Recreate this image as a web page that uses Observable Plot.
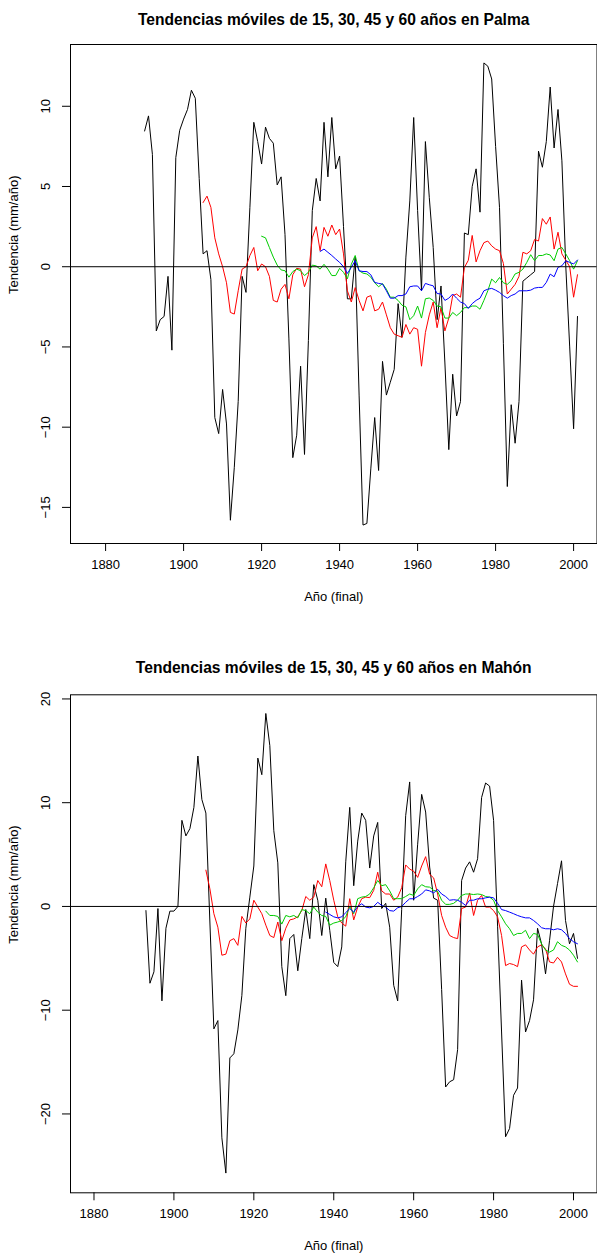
<!DOCTYPE html>
<html><head><meta charset="utf-8">
<script src="https://cdn.jsdelivr.net/npm/d3@7"></script>
<script src="https://cdn.jsdelivr.net/npm/@observablehq/plot@0.6"></script>
<style>
body{margin:0;background:#fff;}
#chart svg{display:block;}
</style></head><body><div id="chart"></div>
<script>
const FONT = '"Liberation Sans", Arial, Helvetica, sans-serif';

// ---------- shared tick labels ----------
const xTicks = [1880, 1900, 1920, 1940, 1960, 1980, 2000];
const palmaYTicks = [-15, -10, -5, 0, 5, 10];
const mahonYTicks = [-20, -10, 0, 10, 20];

// ---------- Palma (first year of each series, then yearly values) ----------
const palmaStart15 = 1890;
const palma15 = [8.46,9.4,7.0,-4.0,-3.3,-3.1,-0.6,-5.2,6.8,8.5,9.2,9.8,11.0,10.5,5.5,0.8,1.0,-0.8,-9.4,-10.4,
  -7.65,-9.8,-15.8,-12.5,-8.4,-0.6,-1.6,3.7,9.0,7.8,6.4,8.7,8.0,7.7,5.1,5.6,2.0,-4.5,-11.9,-10.5,
  -6.2,-11.7,-4.6,3.5,5.5,4.1,9.0,5.6,9.3,6.1,6.9,2.5,-2.0,-2.0,0.6,-8.0,-16.1,-16.0,-12.6,-9.4,
  -12.7,-5.9,-8.0,-7.2,-6.4,-2.3,-4.4,0.6,4.1,9.3,3.5,-1.5,7.8,4.3,1.2,-3.3,-1.2,-6.0,-11.4,-6.7,
  -9.3,-8.4,2.1,2.0,5.0,6.1,3.4,12.7,12.5,11.7,7.5,3.7,-4.8,-13.7,-8.6,-11.0,-8.4,-0.9,-0.7,-0.5,
  -0.3,7.2,6.2,7.8,11.2,7.4,9.8,6.6,0.0,-5.0,-10.1,-3.1];
const palmaStart30 = 1905;
const palma30 = [4.0,4.4,3.7,1.8,0.8,0.0,-1.0,-2.85,-2.95,-1.5,-0.15,0.0,0.7,1.2,-0.25,0.17,0.0,-0.6,-2.1,-2.2,
  -1.4,-1.1,-2.0,-0.5,-0.1,-0.15,-1.25,-0.5,1.8,2.5,1.0,2.45,1.9,2.6,2.0,2.35,0.8,-1.5,-2.2,-1.3,
  -2.1,-2.75,-1.9,-1.8,-2.75,-2.65,-2.2,-3.0,-3.8,-4.2,-4.3,-4.4,-3.6,-4.2,-3.8,-3.9,-6.2,-4.1,-3.0,-2.2,
  -3.8,-2.55,-4.0,-3.2,-1.8,-1.7,-1.9,-0.05,0.4,1.95,0.3,1.0,1.5,1.6,1.3,1.1,1.0,0.2,-1.7,-1.4,
  -1.1,-0.6,0.9,0.8,1.0,1.7,1.6,3.0,2.65,3.1,1.1,2.15,0.8,0.4,0.0,-1.9,-0.5];
const palmaStart45 = 1920;
const palma45 = [1.9,1.8,1.2,0.6,0.1,-0.2,-0.25,-0.65,-0.3,-0.15,-0.25,-0.55,-0.35,0.1,0.05,-0.15,0.15,-0.15,-0.55,-0.55,
  -0.1,-0.35,-0.75,0.15,0.7,-0.25,-0.4,-0.45,-0.65,-1.0,-1.25,-1.05,-1.4,-1.9,-1.9,-2.1,-2.4,-2.5,-3.3,-3.05,
  -2.45,-3.2,-2.0,-1.95,-2.1,-2.45,-2.5,-3.2,-3.2,-2.85,-3.05,-2.85,-2.55,-2.55,-2.45,-2.45,-2.65,-2.1,-1.5,-0.77,
  -1.0,-0.67,-1.0,-1.1,-0.875,-0.45,-0.35,-0.15,0.27,0.75,0.375,0.7,0.7,0.8,0.73,0.375,1.1,1.2,0.8,0.375,
  -0.15,0.375];
const palmaStart60 = 1935;
const palma60 = [0.95,1.1,0.9,0.7,0.48,0.27,0.0,-0.42,-0.04,0.375,-0.25,-0.3,-0.3,-0.5,-0.98,-1.04,-1.08,-1.5,-1.96,-1.96,
  -1.8,-1.8,-1.7,-1.25,-1.2,-1.2,-1.5,-1.04,-1.125,-1.19,-1.67,-1.7,-2.1,-1.96,-1.7,-1.96,-2.2,-2.3,-2.6,-2.3,
  -2.1,-1.96,-1.5,-1.4,-1.35,-1.46,-1.6,-1.8,-1.96,-1.8,-1.7,-1.5,-1.5,-1.5,-1.46,-1.33,-1.29,-1.29,-0.98,-0.46,
  -0.625,-0.04,0.06,0.375,0.27,0.17,0.42];

// ---------- Mahón ----------
const mahonStart15 = 1893;
const mahon15 = [-0.4,-7.4,-6.3,-0.2,-9.1,-2.1,-0.45,-0.45,0.0,8.3,6.8,7.5,9.55,14.5,10.3,9.0,-1.5,-11.8,-11.0,-22.3,
  -25.7,-14.6,-14.2,-11.9,-8.6,-2.1,0.9,3.9,14.3,12.7,18.6,15.5,7.3,4.2,-5.8,-8.6,-3.1,-2.7,-6.2,-3.1,
  -0.3,-3.1,2.1,0.6,-2.8,0.8,-2.3,-5.4,-5.8,-3.9,4.3,9.55,2.0,6.3,9.0,8.3,3.7,6.8,8.1,-0.2,
  0.3,-2.0,-7.6,-9.1,-0.3,8.75,12.0,0.6,6.0,10.8,9.1,3.8,0.8,0.6,-8.0,-17.4,-16.9,-16.7,-13.8,2.5,
  3.7,4.3,3.3,4.6,10.5,11.9,11.6,8.3,-1.9,-12.1,-22.2,-21.4,-18.2,-17.5,-7.1,-12.1,-11.0,-9.0,-2.1,-3.6,
  -6.5,-3.3,0.0,2.2,4.4,-1.35,-3.6,-2.6,-5.0];
const mahonStart30 = 1908;
const mahon30 = [3.5,1.7,-0.7,-2.0,-4.7,-4.6,-3.3,-3.1,-3.75,-0.96,-1.6,-1.2,0.6,-0.06,-0.7,-1.8,-2.8,-3.0,-1.5,-3.3,
  -2.1,-1.3,-1.2,-1.0,-0.4,0.96,0.6,0.9,2.5,1.9,4.1,2.5,0.6,-1.0,-1.6,-1.9,0.75,-1.3,-0.06,0.75,
  0.9,0.85,1.55,3.3,1.5,1.2,1.2,0.6,0.9,1.8,4.0,3.6,3.4,2.8,3.9,4.8,3.1,2.75,1.2,-0.87,
  -2.0,-2.8,-3.0,-3.1,-0.2,-0.06,1.3,-0.87,0.6,1.06,-0.06,-0.06,-0.4,-1.0,-2.8,-5.7,-5.5,-5.6,-5.8,-3.9,
  -3.7,-4.2,-4.6,-3.9,-3.7,-4.1,-5.35,-5.45,-4.9,-5.35,-6.5,-7.5,-7.7,-7.7];
const mahonStart45 = 1923;
const mahon45 = [-0.45,-0.87,-0.87,-0.96,-1.7,-0.87,-1.0,-0.87,-1.1,-0.3,-0.4,-0.7,-0.06,-0.55,-0.87,-0.96,-1.8,-1.6,-1.5,-1.35,
  -1.0,0.0,-0.7,0.75,0.9,0.96,1.2,1.8,2.5,2.0,2.1,1.5,0.75,0.75,0.75,0.96,1.2,1.06,1.7,2.1,
  1.9,1.86,1.55,1.45,0.6,0.2,0.2,0.3,0.6,1.06,1.2,1.2,1.15,1.2,1.15,0.96,0.9,0.6,-0.4,-1.0,
  -1.67,-2.15,-2.8,-2.6,-2.6,-2.3,-3.1,-2.6,-2.7,-3.6,-4.2,-4.4,-4.2,-3.4,-3.75,-3.9,-4.2,-4.7,-5.35];
const mahonStart60 = 1938;
const mahon60 = [-0.55,-0.77,-1.0,-1.1,-1.0,-0.6,-0.2,-0.55,0.0,0.26,-0.06,-0.13,0.0,0.4,0.1,-0.06,-0.4,-0.45,-0.13,0.0,
  0.4,0.74,0.74,0.96,1.2,1.6,1.5,1.3,1.65,1.2,0.96,0.6,0.65,0.6,0.4,0.1,0.6,0.6,0.74,0.74,
  0.83,0.9,0.83,0.3,-0.3,-0.4,-0.55,-0.7,-0.87,-1.0,-1.1,-1.1,-1.35,-1.67,-2.05,-2.15,-2.15,-2.25,-2.15,-2.25,
  -2.6,-3.1,-3.4,-3.6];

const seriesColors = ["black", "#FF0000", "#00CD00", "#0000FF"];
const fmt = d => d < 0 ? "\u2212" + Math.abs(d) : String(d);

function rows(start, values) {
  return values.map((v, i) => ({year: start + i, value: v}));
}

function panel(cfg) {
  const series = cfg.series.map(([s, v]) => rows(s, v));
  return Plot.plot({
    width: 597,
    height: cfg.height,
    marginTop: cfg.mt,
    marginBottom: cfg.mb,
    marginLeft: 70,
    marginRight: 0.5,
    style: {fontFamily: FONT, background: "white", color: "black", overflow: "visible"},
    x: {domain: cfg.xDomain, axis: null},
    y: {domain: cfg.yDomain, axis: null},
    marks: [
      ...series.map((d, i) => Plot.line(d, {x: "year", y: "value", stroke: seriesColors[i], strokeWidth: 1})),
      Plot.ruleY([0], {stroke: "black", strokeWidth: 1}),
      Plot.frame({stroke: "black", strokeWidth: 1}),
      Plot.axisX({ticks: xTicks, tickSize: 8, tickFormat: () => "", label: null}),
      Plot.axisY({ticks: cfg.yTicks, tickSize: 8, tickFormat: () => "", label: null}),
      Plot.text(xTicks, {x: d => d, text: d => String(d), frameAnchor: "bottom", dy: 25, fontSize: 13}),
      Plot.text(cfg.yTicks, {y: d => d, text: fmt, frameAnchor: "left", dx: -24.3, rotate: -90,
        textAnchor: "middle", lineAnchor: "middle", fontSize: 13}),
      Plot.text([cfg.title], {frameAnchor: "top", dy: cfg.titleDy, fontSize: 15.6, fontWeight: "bold"}),
      Plot.text(["Año (final)"], {frameAnchor: "bottom", dy: 57, fontSize: 13}),
      Plot.text(["Tendencia (mm/año)"], {frameAnchor: "left", dx: -57, rotate: -90, fontSize: 13})
    ]
  });
}

const chart = document.getElementById("chart");
chart.append(panel({
  title: "Tendencias móviles de 15, 30, 45 y 60 años en Palma",
  height: 630, mt: 44, mb: 87, titleDy: -30.7,
  xDomain: [1871, 2006], yDomain: [-17.25, 13.85], yTicks: palmaYTicks,
  series: [[palmaStart15, palma15], [palmaStart30, palma30], [palmaStart45, palma45], [palmaStart60, palma60]]
}));
chart.append(panel({
  title: "Tendencias móviles de 15, 30, 45 y 60 años en Mahón",
  height: 629, mt: 64.3, mb: 66.7, titleDy: -32.6,
  xDomain: [1874.12, 2005.88], yDomain: [-27.6, 20.4], yTicks: mahonYTicks,
  series: [[mahonStart15, mahon15], [mahonStart30, mahon30], [mahonStart45, mahon45], [mahonStart60, mahon60]]
}));
</script></body></html>
